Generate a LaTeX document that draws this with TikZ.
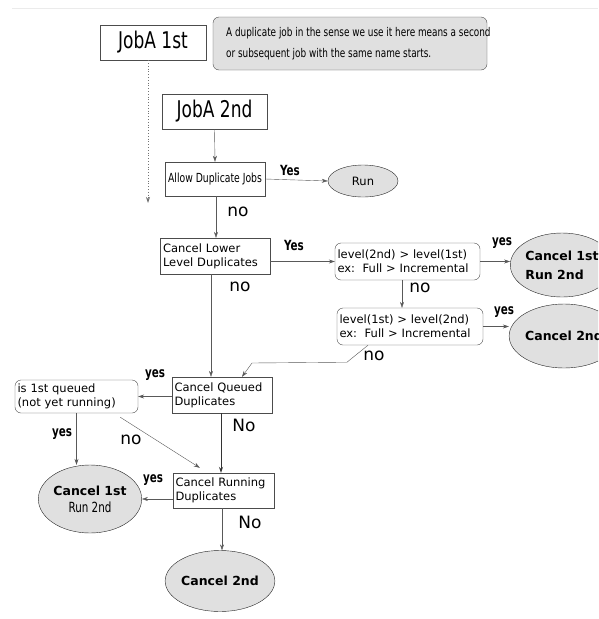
\documentclass[tikz,border=0pt]{standalone}
\usepackage{fontspec}
\setmainfont{DejaVu Sans}
\newfontfamily\narrowfont[FakeStretch=0.74]{DejaVu Sans}
\usetikzlibrary{arrows.meta,shapes.geometric}
\tikzset{
  box/.style={draw=black!70, fill=white, inner sep=2pt, align=left, font=\fontsize{11.5}{14}\selectfont},
  roundbox/.style={box, rounded corners=6pt},
  endnode/.style={draw=black!85, fill=black!12, ellipse, inner sep=0pt, align=center},
  flow/.style={draw=black!65, -{Stealth[length=6pt,width=4pt]}},
  lbl/.style={font=\narrowfont\bfseries\fontsize{14}{14}\selectfont},
  biglbl/.style={font=\fontsize{17}{17}\selectfont},
}
\begin{document}
\begin{tikzpicture}[x=1pt,y=-1pt]
  %%%%% frame %%%%%
  \clip (0,0) rectangle (598,619);
  \useasboundingbox (0,0) rectangle (598,619);
  \draw[black!8] (12,8) -- (598,8);

  %%%%% jobs and note %%%%%
  \node[box, minimum width=106pt, minimum height=35pt, align=center, font=\narrowfont\fontsize{23}{23}\selectfont] (job1) at (153,42.5) {JobA 1st};
  \node[roundbox, fill=black!12, minimum width=274pt, minimum height=53pt] (note) at (350,43.5) {};
  \node[anchor=west, inner sep=0pt, align=left, font=\narrowfont\fontsize{12}{21}\selectfont] (notetext) at (226,44) {A duplicate job in the sense we use it here means a second\\or subsequent job with the same name starts.};
  \node[box, minimum width=105pt, minimum height=35pt, align=center, font=\narrowfont\fontsize{23}{23}\selectfont] (job2) at (214.5,111.5) {JobA 2nd};
  \coordinate (dotend) at (148,203);

  %%%%% decisions %%%%%
  \node[box, minimum width=100pt, minimum height=34pt, align=center, font=\narrowfont\fontsize{12.5}{14}\selectfont] (allow) at (215,179) {Allow Duplicate Jobs};
  \node[box, minimum width=110pt, minimum height=36pt, text width=104pt] (lower) at (215,256) {Cancel Lower\\Level Duplicates};
  \node[roundbox, minimum width=145pt, minimum height=37pt, text width=140pt] (lvlA) at (407.5,261.5) {level(2nd) > level(1st)\\ex:\ \ Full > Incremental};
  \node[roundbox, minimum width=146pt, minimum height=37pt, text width=141pt] (lvlB) at (410,326.5) {level(1st) > level(2nd)\\ex:\ \ Full > Incremental};
  \node[box, minimum width=100pt, minimum height=36pt, text width=95pt] (queued) at (222,395) {Cancel Queued\\Duplicates};
  \node[roundbox, minimum width=123pt, minimum height=33pt, text width=118pt] (first) at (76.5,396.5) {is 1st queued\\(not yet running)};
  \node[box, minimum width=101pt, minimum height=35pt, text width=96pt] (running) at (223.5,490.5) {Cancel Running\\Duplicates};

  %%%%% results %%%%%
  \node[endnode, minimum width=70pt, minimum height=32pt, font=\fontsize{11.5}{14}\selectfont] (run) at (363,181) {Run};
  \node[endnode, minimum width=96pt, minimum height=64pt, align=left, font=\bfseries\fontsize{12.5}{19}\selectfont] (can1) at (562,265) {Cancel 1st\\Run 2nd};
  \node[endnode, minimum width=96pt, minimum height=64pt, font=\bfseries\fontsize{12.5}{15}\selectfont] (can2) at (564,336) {Cancel 2nd};
  \node[endnode, minimum width=96pt, minimum height=68pt, font=\bfseries\fontsize{12.5}{17}\selectfont] (can3) at (90,499) {Cancel 1st\\{\mdseries\narrowfont\fontsize{14}{17}\selectfont Run 2nd}};
  \node[endnode, minimum width=95pt, minimum height=61pt, font=\bfseries\fontsize{12.5}{15}\selectfont] (can4) at (220,581) {Cancel 2nd};

  %%%%% connectors %%%%%
  \draw[flow, dotted, thick, black!55] (job1.south -| dotend) -- (dotend);
  \draw[flow] (job2.south) -- (allow.north);
  \draw[flow] (allow.east) -- (run.west);
  \draw[flow] ([xshift=1pt]allow.south) -- ([xshift=1pt]allow.south |- lower.north);
  \draw[flow] (lower.east |- lvlA.west) -- (lvlA.west);
  \draw[flow] (lvlA.east) -- (lvlA.east -| can1.west);
  \draw[flow] ([xshift=-5.5pt]lvlA.south) -- ([xshift=-5.5pt]lvlA.south |- lvlB.north);
  \draw[flow] (lvlB.east) -- (lvlB.east -| can2.west);
  \draw[flow] ([xshift=-42pt]lvlB.south) -- ++(-21,17) -- (252,363) -- ([xshift=20pt]queued.north);
  \draw[flow] ([xshift=-4pt]lower.south) -- ([xshift=-4pt]lower.south |- queued.north);
  \draw[flow] (queued.west |- first.east) -- (first.east);
  \draw[flow] (first.south) -- (first.south |- can3.north);
  \draw[flow] ([xshift=-18pt,yshift=-4pt]first.south east) -- ([xshift=27pt,yshift=5pt]running.north west);
  \draw[flow, thick, black!80] ([xshift=-1pt]queued.south) -- ([xshift=-1pt]queued.south |- running.north);
  \draw[flow] (running.west |- can3.east) -- (can3.east);
  \draw[flow] ([xshift=-1.5pt]running.south) -- ([xshift=-1.5pt]running.south |- can4.north);

  %%%%% labels %%%%%
  \node[lbl] (l1) at (290,170) {Yes};
  \node[biglbl] (l2) at (238,212) {no};
  \node[lbl] (l3) at (294,245) {Yes};
  \node[biglbl] (l4) at (240,287) {no};
  \node[lbl] (l5) at (502,243) {yes};
  \node[biglbl] (l6) at (420,288) {no};
  \node[lbl] (l7) at (504,312) {yes};
  \node[biglbl] (l8) at (374,356) {no};
  \node[lbl] (l9) at (155,375) {yes};
  \node[biglbl] (l10) at (244,425) {No};
  \node[lbl] (l11) at (62,434) {yes};
  \node[biglbl] (l12) at (131,440) {no};
  \node[lbl] (l13) at (153,480) {yes};
  \node[biglbl] (l14) at (250,522) {No};
\end{tikzpicture}
\end{document}
